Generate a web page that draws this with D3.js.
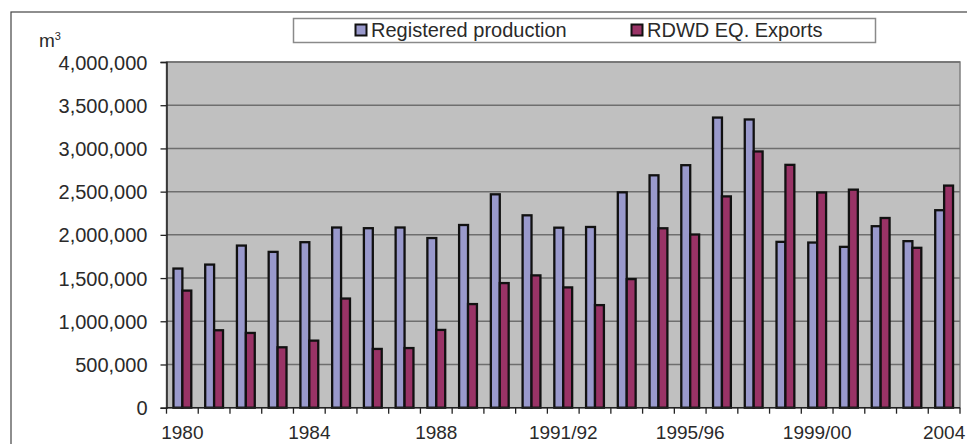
<!DOCTYPE html>
<html>
<head>
<meta charset="utf-8">
<script src="https://cdn.jsdelivr.net/npm/d3@7"></script>
<style>
  html, body { margin: 0; padding: 0; background: #fff; }
  svg { display: block; font-family: "Liberation Sans", Arial, sans-serif; }
</style>
</head>
<body>
<svg id="chart" width="967" height="444"></svg>
<script>
const categories = ["1980","1981","1982","1983","1984","1985","1986","1987","1988","1989","1990",
  "1990/91","1991/92","1992/93","1993/94","1994/95","1995/96","1996/97","1997/98","1998/99",
  "1999/00","2000/01","2001/02","2003","2004"];
const registeredProduction = [1610000,1656000,1876000,1803000,1915000,2085000,2077000,2085000,1963000,2114000,2469000,
  2226000,2083000,2091000,2492000,2689000,2806000,3357000,3335000,1919000,
  1911000,1861000,2100000,1927000,2285000];
const rdwdExports = [1355000,896000,865000,699000,776000,1263000,680000,690000,900000,1199000,1442000,
  1531000,1392000,1187000,1488000,2076000,2004000,2445000,2965000,2810000,
  2490000,2523000,2195000,1850000,2570000];
const seriesNames = ["Registered production", "RDWD EQ. Exports"];
const seriesColors = ["#9999CC", "#993366"];
const xTickLabels = ["1980","1984","1988","1991/92","1995/96","1999/00","2004"];
const yTicks = [0,500000,1000000,1500000,2000000,2500000,3000000,3500000,4000000];

const svg = d3.select("#chart");
const plot = {left: 166.5, right: 960, top: 62, bottom: 407.7};

// outer frame (cut off at right and bottom)
svg.append("rect").attr("x", 11).attr("y", 12).attr("width", 1000).attr("height", 600)
  .attr("fill", "none").attr("stroke", "#444").attr("stroke-width", 1.2);

const x0 = d3.scaleBand().domain(categories).range([plot.left, plot.right]).paddingInner(0).paddingOuter(0);
const x1 = d3.scaleBand().domain([0,1]).range([0, x0.bandwidth()]).paddingInner(0).paddingOuter(0.78);
const y = d3.scaleLinear().domain([0, 4000000]).range([plot.bottom, plot.top]);

// plot background
svg.append("rect").attr("x", plot.left).attr("y", plot.top)
  .attr("width", plot.right - plot.left).attr("height", plot.bottom - plot.top)
  .attr("fill", "#C0C0C0").attr("stroke", "#808080").attr("stroke-width", 1.5);

// gridlines
svg.append("g").selectAll("line").data(yTicks.filter(d => d > 0)).join("line")
  .attr("x1", plot.left).attr("x2", plot.right)
  .attr("y1", d => y(d)).attr("y2", d => y(d))
  .attr("stroke", "#6e6e6e").attr("stroke-width", 1.5);

// bars
const data = categories.map((c, i) => ({c, v: [registeredProduction[i], rdwdExports[i]]}));
const groups = svg.append("g").selectAll("g").data(data).join("g")
  .attr("transform", d => `translate(${x0(d.c)},0)`);
groups.selectAll("rect").data(d => d.v.map((v, k) => ({v, k}))).join("rect")
  .attr("x", d => x1(d.k)).attr("width", x1.bandwidth())
  .attr("y", d => y(d.v)).attr("height", d => y(0) - y(d.v))
  .attr("fill", d => seriesColors[d.k]).attr("stroke", "#111").attr("stroke-width", 2.3);

// y axis
const yAxis = d3.axisLeft(y).tickValues(yTicks).tickFormat(d3.format(",")).tickSize(6).tickPadding(13);
const gy = svg.append("g").attr("transform", `translate(${plot.left},0)`).call(yAxis);
gy.select(".domain").attr("stroke", "#222").attr("stroke-width", 1.5);
gy.selectAll(".tick line").attr("stroke", "#222").attr("stroke-width", 1.3);
gy.selectAll(".tick text").attr("fill", "#2a2a2a").style("font-size", "20px").attr("dy", "0.35em");

// x axis
const xAxisScale = d3.scaleLinear().domain([0, categories.length]).range([plot.left, plot.right]);
const gx = svg.append("g").attr("transform", `translate(0,${plot.bottom})`);
gx.append("line").attr("x1", plot.left).attr("x2", plot.right).attr("stroke", "#222").attr("stroke-width", 1.5);
gx.selectAll("line.tk").data(d3.range(categories.length + 1)).join("line").attr("class", "tk")
  .attr("x1", d => xAxisScale(d)).attr("x2", d => xAxisScale(d)).attr("y1", 0).attr("y2", 6)
  .attr("stroke", "#222").attr("stroke-width", 1.3);
gx.selectAll("text").data(xTickLabels).join("text")
  .attr("x", d => x0(d) + x0.bandwidth() / 2).attr("y", 31)
  .attr("text-anchor", "middle").attr("fill", "#2a2a2a").style("font-size", "19px")
  .text(d => d);

// unit label
const unit = svg.append("text").attr("x", 39).attr("y", 47).attr("fill", "#2a2a2a").style("font-size", "19px");
unit.append("tspan").text("m");
unit.append("tspan").attr("dy", -7).style("font-size", "11px").text("3");

// legend
svg.append("rect").attr("x", 293.5).attr("y", 18.5).attr("width", 582).attr("height", 24)
  .attr("fill", "#fff").attr("stroke", "#8a8a8a").attr("stroke-width", 1.5);
const legendX = [355, 631];
const leg = svg.append("g").selectAll("g").data(seriesNames).join("g")
  .attr("transform", (d, i) => `translate(${legendX[i]},24)`);
leg.append("rect").attr("x", 0.5).attr("y", 0.5).attr("width", 11).attr("height", 11)
  .attr("fill", (d, i) => seriesColors[i]).attr("stroke", "#111").attr("stroke-width", 2);
leg.append("text").attr("x", 16).attr("y", 13).attr("fill", "#2a2a2a").style("font-size", "20px").text(d => d);
</script>
</body>
</html>
